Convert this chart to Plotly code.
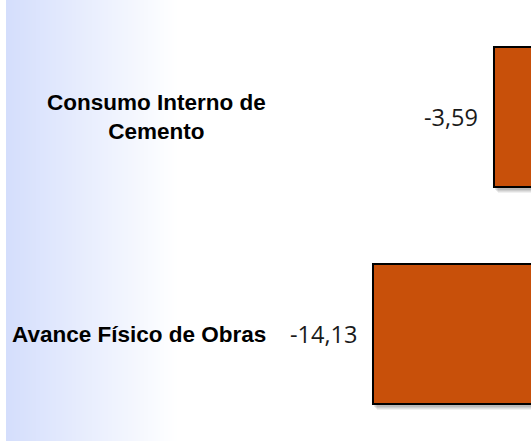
import plotly.graph_objects as go

categories = ["Avance Físico de Obras", "Consumo Interno de Cemento"]
label_lines = [["Avance Físico de Obras"], ["Consumo Interno de", "Cemento"]]
values = [-14.13, -3.59]

W, H = 531, 441
bar_color = "#C8500A"
bar_width = 0.645
px_per_cat = 217.0
px_per_unit = 11.48

fig = go.Figure()
fig.add_trace(go.Bar(
    x=values, y=categories, orientation="h",
    marker=dict(color=bar_color, line=dict(color="#000000", width=2)),
    width=bar_width, hoverinfo="skip",
))

# left gradient background (paper coords span full figure since margins are 0)
shapes = []
x_start, x_end = 6, 176
c0 = (212, 222, 252)
step = 2
for px in range(x_start, x_end, step):
    t = (px - x_start) / (x_end - x_start)
    r = round(c0[0] + (255 - c0[0]) * t)
    g = round(c0[1] + (255 - c0[1]) * t)
    b = round(c0[2] + (255 - c0[2]) * t)
    shapes.append(dict(type="rect", xref="paper", yref="paper",
                       x0=px / W, x1=(px + step + 0.5) / W, y0=0, y1=1,
                       fillcolor=f"rgb({r},{g},{b})", line=dict(width=0),
                       layer="below"))

# soft drop shadow beneath each bar (offset down/right a few pixels)
for i, v in enumerate(values):
    for k, a in [(6, 0.06), (5, 0.07), (4, 0.08), (3, 0.09)]:
        dy = k / px_per_cat
        dx = (k - 2) / px_per_unit
        shapes.append(dict(type="rect", xref="x", yref="y",
                           x0=v + dx, x1=0,
                           y0=i - bar_width / 2 - dy, y1=i + bar_width / 2 - dy,
                           fillcolor=f"rgba(0,0,0,{a})", line=dict(width=0),
                           layer="below"))

annotations = []
for cat, lines in zip(categories, label_lines):
    annotations.append(dict(
        x=268 / W, xref="paper", y=cat, yref="y",
        text="<br>".join(f"<b>{ln}</b>" for ln in lines), showarrow=False,
        xanchor="right", yanchor="middle", align="center",
        font=dict(family="Liberation Sans, Arial, sans-serif", size=22.5,
                  color="#000000"),
    ))
for cat, v in zip(categories, values):
    annotations.append(dict(
        x=v, xref="x", y=cat, yref="y",
        text=f"{v:.2f}".replace(".", ","), showarrow=False,
        xanchor="right", yanchor="middle", xshift=-14,
        font=dict(family="Open Sans, sans-serif", size=23.5, color="#1a1a1a"),
    ))

fig.update_layout(
    width=W, height=H,
    margin=dict(l=0, r=0, t=0, b=0),
    paper_bgcolor="white", plot_bgcolor="rgba(0,0,0,0)",
    showlegend=False,
    bargap=0.355,
    shapes=shapes,
    annotations=annotations,
    xaxis=dict(domain=[280 / W, 1], range=[-22.23, -0.366],
               showticklabels=False, showgrid=False, zeroline=False,
               showline=False, ticks=""),
    yaxis=dict(domain=[0, (H - 8) / H], range=[-0.493, 1.502],
               type="category", categoryorder="array", categoryarray=categories,
               showticklabels=False, showgrid=False, zeroline=False,
               showline=False, ticks=""),
)

fig.write_html("out.html", config={"displayModeBar": False},
               post_script="document.body.style.margin='0';")
